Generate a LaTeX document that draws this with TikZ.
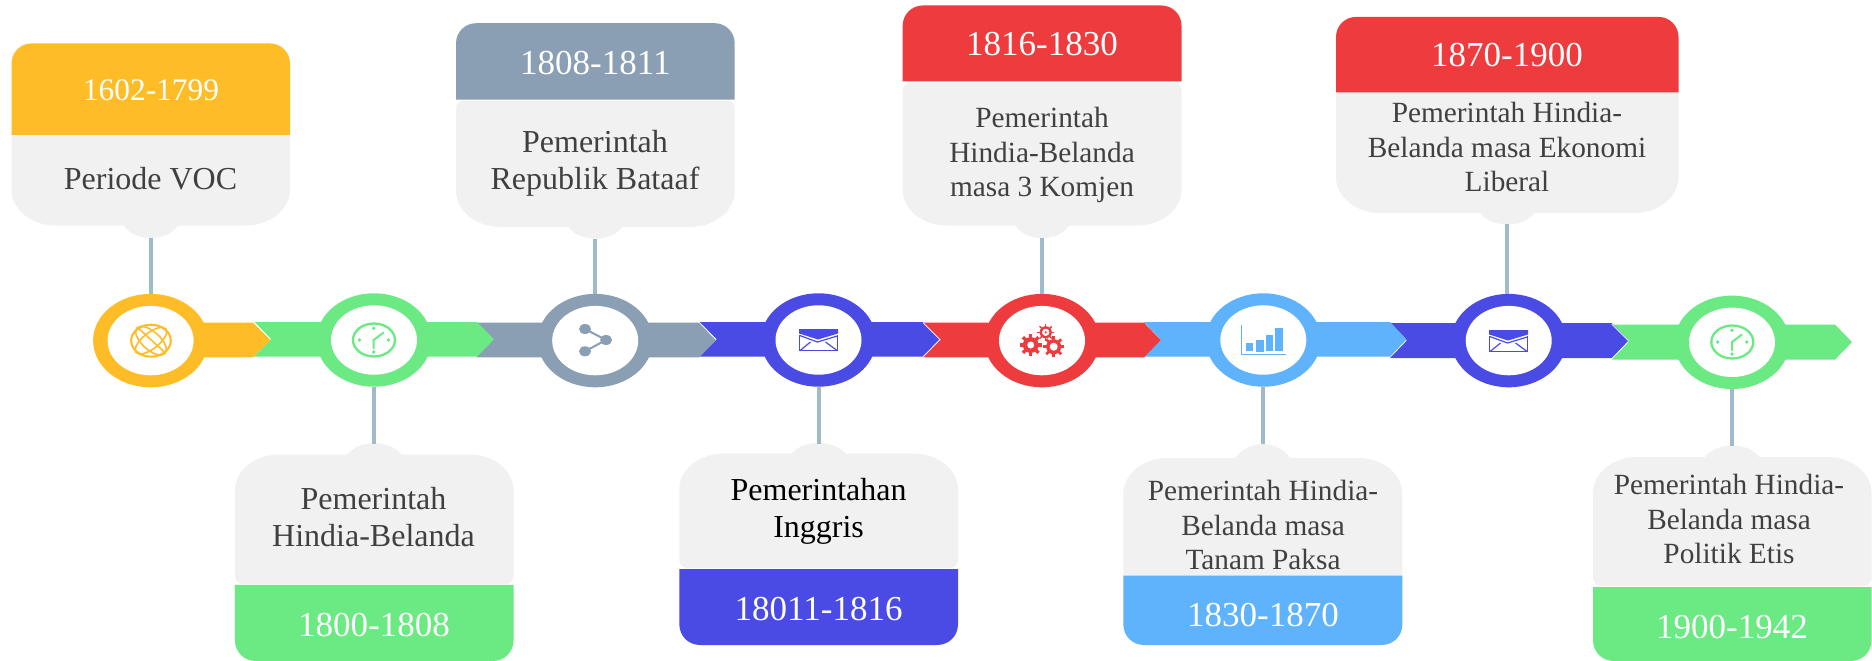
\documentclass[tikz,border=0pt]{standalone}
\usepackage{fontspec}
\setmainfont{Liberation Serif}
\usetikzlibrary{shapes.geometric,calc}
\definecolor{cyel}{HTML}{FEBD26}
\definecolor{cgrn}{HTML}{6BE983}
\definecolor{cgry}{HTML}{8A9FB3}
\definecolor{cind}{HTML}{4A4BE5}
\definecolor{cred}{HTML}{EE3B3D}
\definecolor{cblu}{HTML}{5FB2FC}
\definecolor{ccard}{HTML}{F1F1F1}
\definecolor{cline}{HTML}{A0BACB}
\definecolor{ctext}{HTML}{404040}
\tikzset{
  conn/.style={draw=cline,line width=3.8pt},
  ringout/.style={ellipse,inner sep=0pt,outer sep=0pt,minimum width=115pt,minimum height=93.4pt,fill=#1},
  ringin/.style={ellipse,inner sep=0pt,outer sep=0pt,minimum width=86pt,minimum height=69.4pt,fill=white},
  pertext/.style={text=white,font=\fontsize{35}{40}\selectfont,inner sep=0pt},
  bigtext/.style={text=ctext,align=center,inner sep=0pt,font=\fontsize{32}{37}\selectfont},
  smalltext/.style={text=ctext,align=center,inner sep=0pt,font=\fontsize{29.3}{34.6}\selectfont},
  edge/.style={draw=white,line width=.7pt},
  iconline/.style={line width=#1,line cap=round},
}
% chevron: start, shoulder, tip, top, bottom, colour
\newcommand{\chev}[6]{%
  \fill[#6] (#1,#4) -- (#2,#4) -- (#3,{(#4+#5)/2}) -- (#2,#5) -- (#1,#5) -- ({#1+#3-#2},{(#4+#5)/2}) -- cycle;}
% top card: L R top headerbottom bodytop bodybottom bumpbottom colour name
\newcommand{\cardT}[9]{%
  \fill[ccard] (#1,{#5+8}) .. controls (#1,{#5+3.6}) and ({#1+3.6},#5) .. ({#1+8},#5)
    -- ({#2-8},#5) .. controls ({#2-3.6},#5) and (#2,{#5+3.6}) .. (#2,{#5+8})
    -- (#2,{#6-36}) .. controls (#2,{#6-16}) and ({#2-20},#6) .. ({#2-44},#6)
    -- ({(#1+#2)/2+27},#6) .. controls ({(#1+#2)/2+16},{#7+4}) and ({(#1+#2)/2-16},{#7+4}) .. ({(#1+#2)/2-27},#6)
    -- ({#1+44},#6) .. controls ({#1+20},#6) and (#1,{#6-16}) .. (#1,{#6-36}) -- cycle;
  \fill[#8] (#1,#4) -- (#1,{#3+20}) .. controls (#1,{#3+9}) and ({#1+9},#3) .. ({#1+20},#3)
    -- ({#2-20},#3) .. controls ({#2-9},#3) and (#2,{#3+9}) .. (#2,{#3+20}) -- (#2,#4) -- cycle;
  \coordinate (b#9) at ({(#1+#2)/2},#7);}
% bottom card: L R bumptop bodytop bodybottom headertop headerbottom colour name
\newcommand{\cardB}[9]{%
  \fill[ccard] (#1,{#4+36}) .. controls (#1,{#4+16}) and ({#1+20},#4) .. ({#1+44},#4)
    -- ({(#1+#2)/2-27},#4) .. controls ({(#1+#2)/2-16},{#3-4}) and ({(#1+#2)/2+16},{#3-4}) .. ({(#1+#2)/2+27},#4)
    -- ({#2-44},#4) .. controls ({#2-20},#4) and (#2,{#4+16}) .. (#2,{#4+36})
    -- (#2,{#5-8}) .. controls (#2,{#5-3.6}) and ({#2-3.6},#5) .. ({#2-8},#5)
    -- ({#1+8},#5) .. controls ({#1+3.6},#5) and (#1,{#5-3.6}) .. (#1,{#5-8}) -- cycle;
  \fill[#8] (#1,#6) -- (#1,{#7-21}) .. controls (#1,{#7-9}) and ({#1+9},#7) .. ({#1+21},#7)
    -- ({#2-21},#7) .. controls ({#2-9},#7) and (#2,{#7-9}) .. (#2,{#7-21}) -- (#2,#6) -- cycle;
  \coordinate (b#9) at ({(#1+#2)/2},#3);}
\newcommand{\clockicon}[3]{%
  \begin{scope}[shift={(#1,#2)},#3]
    \draw[line width=2.3pt] (.3,0) ellipse (21pt and 16.5pt);
    \fill (0,-11.7) circle (1.9pt) (-14.3,0) circle (1.9pt) (14.7,0) circle (1.9pt) (0,12) circle (1.9pt);
    \draw[iconline=2pt] (9.7,-7.3) -- (0,0) -- (0,8.3);
  \end{scope}}
\newcommand{\envicon}[3]{%
  \begin{scope}[shift={(#1,#2)},#3]
    \fill (-19.3,-11) -- (19.5,-11) -- (19.5,-6.5) -- (-.5,-.5) -- (-19.3,-6.5) -- cycle;
    \draw[line width=1.2pt] (-18.8,-5) -- (-18.8,10.8) -- (19,10.8) -- (19,-5);
    \draw[line width=1.2pt] (-18.8,-4.5) -- (-1,2) -- (18.8,-4);
    \draw[line width=1.2pt] (-18.8,10.8) -- (-8,2) (19,10.8) -- (7,2);
  \end{scope}}
\newcommand{\gearicon}[6]{%
  \begin{scope}[shift={(#1,#2)},#6]
    \foreach \a in {0,45,...,315}{\draw[line width=#5] (0,0) -- (\a:#3);}
    \fill circle (#3*.72pt);
    \fill[white] circle (#4);
  \end{scope}}
\begin{document}
\begin{tikzpicture}[x=1pt,y=-1pt]
\path[use as bounding box,fill=white] (0,0) rectangle (1872,661);
% cards
\cardT{11.5}{290}{43.4}{134.9}{127}{225.5}{238.2}{cyel}{1}
\cardB{234.9}{513.6}{443.5}{454.5}{584}{584.8}{661}{cgrn}{2}
\cardT{456}{734.7}{23.2}{99.5}{100.5}{226.8}{238.6}{cgry}{3}
\cardB{679.3}{958}{443.5}{453.6}{568}{569}{645}{cind}{4}
\cardT{902.7}{1181.5}{5.5}{81.4}{82.6}{225.5}{238.2}{cred}{5}
\cardB{1123.3}{1402.4}{443.5}{458}{585}{575.5}{645}{cblu}{6}
\cardT{1336}{1678.5}{16.9}{92.3}{85}{213}{224.3}{cred}{7}
\cardB{1593}{1871.6}{445.6}{457}{586}{587}{661}{cgrn}{8}
% bar, last segment first so that every tip lies over the next notch
\chev{1611.7}{1835}{1852}{324.6}{359.6}{cgrn}
\chev{1390}{1611.7}{1628.6}{323}{358}{cind}
\chev{1144}{1390}{1406.5}{322}{356.7}{cblu}
\chev{923}{1144}{1160.7}{322.7}{357.3}{cred}
\chev{699.3}{922.7}{940}{322}{356.7}{cind}
\chev{476}{699.3}{716}{322.7}{357.3}{cgry}
\chev{254}{477}{494}{322}{356.7}{cgrn}
\fill[cyel] (151,322.7) -- (253,322.7) -- (270.7,340) -- (253,357.3) -- (151,357.3) -- cycle;
\draw[edge] (254,322) -- (270.7,339.5);
\draw[edge] (699.3,322.3) -- (716,339.5);
\draw[edge] (923,322.7) -- (940,339.5) -- (923,357);
\draw[edge] (1611.7,324) -- (1628.6,341);
% rings
\node[ringout=cyel] (r1) at (150.6,340.6) {};
\node[ringout=cgrn] (r2) at (374,340) {};
\node[ringout=cgry] (r3) at (595.2,340.6) {};
\node[ringout=cind] (r4) at (818.5,340) {};
\node[ringout=cred] (r5) at (1042,340.6) {};
\node[ringout=cblu] (r6) at (1263.3,340) {};
\node[ringout=cind] (r7) at (1508.7,340.6) {};
\node[ringout=cgrn] (r8) at (1732,342.3) {};
\foreach \n/\x/\y in {1/150.6/340.6,2/374/340,3/595.2/340.6,4/818.5/340,5/1042/340.6,6/1263.3/340,7/1508.7/340.6,8/1732/342.3}
  \node[ringin] (i\n) at (\x,\y) {};
% connectors
\draw[conn] (b1) -- (b1 |- r1.north);
\draw[conn] (b2) -- (b2 |- r2.south);
\draw[conn] (b3) -- (b3 |- r3.north);
\draw[conn] (b4) -- (b4 |- r4.south);
\draw[conn] (b5) -- (b5 |- r5.north);
\draw[conn] (b6) -- (b6 |- r6.south);
\draw[conn] (b7) -- (b7 |- r7.north);
\draw[conn] (b8) -- (b8 |- r8.south);
% icons
\begin{scope}[shift={(151,340.7)},cyel]
  \draw[line width=2.1pt] (0,0) ellipse (19.8pt and 16pt);
  \draw[line width=1.6pt,rotate=38] (0,0) ellipse (19pt and 8pt);
  \draw[line width=1.6pt,rotate=-42] (0,0) ellipse (19pt and 9pt);
  \draw[line width=1.6pt] (-12,-12) -- (13,11);
\end{scope}
\clockicon{373.7}{340}{cgrn}
\begin{scope}[shift={(595.2,340)},cgry]
  \draw[line width=2pt] (-10.2,-11) -- (10.8,0) -- (-10.2,11.3);
  \fill (-10.2,-11) ellipse (6pt and 5pt) (10.8,0) ellipse (6pt and 5pt) (-10.2,11.3) ellipse (6pt and 5pt);
\end{scope}
\envicon{818.5}{340}{cind}
\gearicon{1030.7}{345}{11}{3.5pt}{3.4pt}{cred}
\gearicon{1053.7}{346.7}{10.5}{4pt}{2.6pt}{cred}
\gearicon{1045.7}{332.3}{8.5}{3.8pt}{1.4pt}{cred}
\fill[white] (1045.7,332.3) circle (3.8pt);
\draw[cred,line width=1pt] (1045.7,332.3) circle (4.4pt);
\fill[cred] (1045.7,332.3) circle (1.2pt);
\begin{scope}[cblu]
  \draw[line width=.9pt] (1241.7,325) -- (1241.7,354.3) -- (1285.7,354.3);
  \fill (1246,343) rectangle (1253,351);
  \fill (1256,340) rectangle (1264,352);
  \fill (1266,335) rectangle (1273.3,351);
  \fill (1275,328) rectangle (1283,351);
\end{scope}
\envicon{1508.5}{341}{cind}
\clockicon{1732}{342}{cgrn}
% texts
\node[pertext,font=\fontsize{31.4}{36}\selectfont] (p1) at (151,90.2) {1602-1799};
\node[pertext] (p2) at (374,625.5) {1800-1808};
\node[pertext] (p3) at (595.4,62.8) {1808-1811};
\node[pertext] (p4) at (818.6,609) {18011-1816};
\node[pertext] (p5) at (1042,44) {1816-1830};
\node[pertext] (p6) at (1263,614.8) {1830-1870};
\node[pertext] (p7) at (1507,55) {1870-1900};
\node[pertext] (p8) at (1732,627.5) {1900-1942};
\node[bigtext] (t1) at (150.5,178.8) {Periode VOC};
\node[bigtext] (t2) at (373.5,517.5) {Pemerintah\\Hindia-Belanda};
\node[bigtext] (t3) at (595,163.5) {Pemerintah\\Republik Bataaf};
\node[bigtext,text=black] (t4) at (818.6,511) {Pemerintahan\\Inggris};
\node[smalltext] (t5) at (1042,155) {Pemerintah\\Hindia-Belanda\\masa 3 Komjen};
\node[smalltext] (t6) at (1263,525) {Pemerintah Hindia-\\Belanda masa\\Tanam Paksa};
\node[smalltext] (t7) at (1507,147) {Pemerintah Hindia-\\Belanda masa Ekonomi\\Liberal};
\node[smalltext] (t8) at (1729,519) {Pemerintah Hindia-\\Belanda masa\\Politik Etis};
\end{tikzpicture}
\end{document}
